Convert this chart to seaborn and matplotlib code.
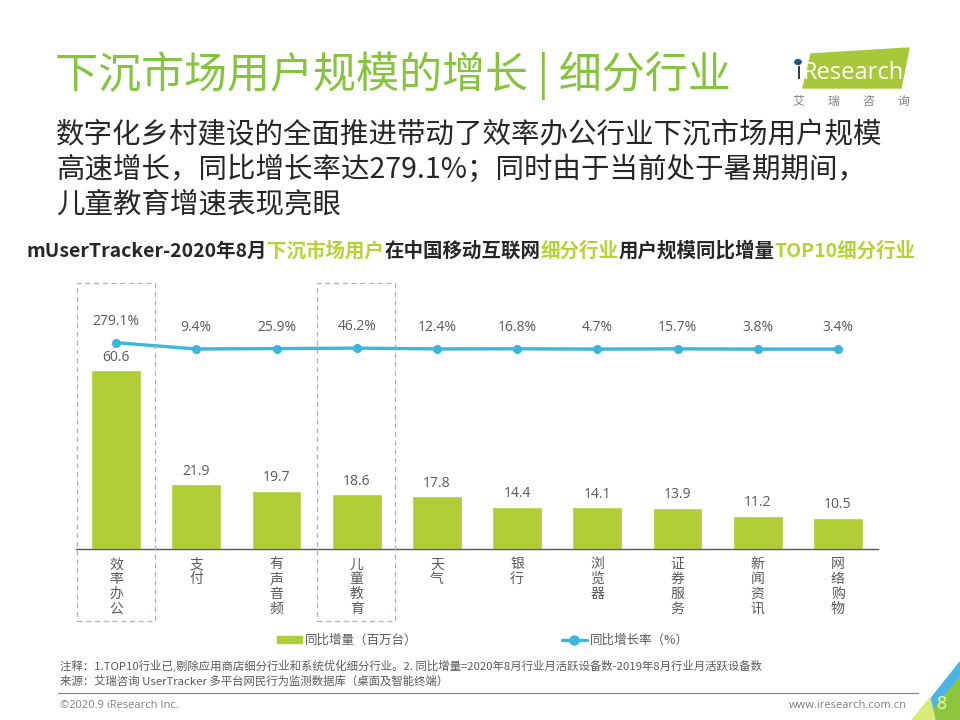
import numpy as np
import pandas as pd
import matplotlib
matplotlib.use("Agg")
import matplotlib.pyplot as plt
import matplotlib.patches as mpatches
import matplotlib.transforms as mtransforms
from matplotlib.lines import Line2D
import seaborn as sns

# ---------------- data ----------------
categories = ["效率办公", "支付", "有声音频", "儿童教育", "天气", "银行", "浏览器", "证券服务", "新闻资讯", "网络购物"]
increase = [60.6, 21.9, 19.7, 18.6, 17.8, 14.4, 14.1, 13.9, 11.2, 10.5]
growth_rate = [279.1, 9.4, 25.9, 46.2, 12.4, 16.8, 4.7, 15.7, 3.8, 3.4]
highlight = ["效率办公", "儿童教育"]

title = "下沉市场用户规模的增长 | 细分行业"
subtitle = ["数字化乡村建设的全面推进带动了效率办公行业下沉市场用户规模",
            "高速增长，同比增长率达279.1%；同时由于当前处于暑期期间，",
            "儿童教育增速表现亮眼"]
chart_title_parts = [("mUserTracker-2020年8月", "dark"), ("下沉市场用户", "hl"),
                     ("在中国移动互联网", "dark"), ("细分行业", "hl"),
                     ("用户规模同比增量", "dark"), ("TOP10细分行业", "hl")]
legend_labels = ["同比增量（百万台）", "同比增长率（%）"]
notes = ["注释：1.TOP10行业已,剔除应用商店细分行业和系统优化细分行业。2. 同比增量=2020年8月行业月活跃设备数-2019年8月行业月活跃设备数",
         "来源：艾瑞咨询 UserTracker 多平台网民行为监测数据库（桌面及智能终端）"]
footer_left = "©2020.9 iResearch Inc."
footer_right = "www.iresearch.com.cn"
page_no = "8"

# ---------------- style ----------------
sns.set_theme(style="white")
plt.rcParams['font.family'] = ['Noto Sans CJK SC', 'DejaVu Sans']
GREEN_BAR = "#afcd35"
GREEN_TITLE = "#86c440"
GREEN_HL = "#b3d336"
BLUE = "#3bb6e0"
GREY = "#595959"
DARK = "#262626"

W, H = 960, 720
fig = plt.figure(figsize=(9.6, 7.2), dpi=100)


def fx(x):
    return x / W


def fy(y):
    return 1 - y / H


# ---------------- chart ----------------
ax_l, ax_r, ax_b, ax_t = 76, 878, 549, 290
ax = fig.add_axes([fx(ax_l), fy(ax_b), (ax_r - ax_l) / W, (ax_b - ax_t) / H])
df = pd.DataFrame({"cat": categories, "inc": increase, "rate": growth_rate})
sns.barplot(data=df, x="cat", y="inc", color=GREEN_BAR, saturation=1, width=0.62, ax=ax)
ax.set_xlim(-0.5, len(categories) - 0.5)
ax.set_ylim(0, (ax_b - ax_t) / 2.95)
ax.set_xlabel("")
ax.set_ylabel("")
ax.set_yticks([])
for s in ["top", "right", "left"]:
    ax.spines[s].set_visible(False)
ax.spines["bottom"].set_color(GREY)
ax.spines["bottom"].set_linewidth(1.0)
ax.set_xticks(range(len(categories)))
ax.set_xticklabels(["\n".join(c) for c in categories], fontsize=10, color=GREY,
                   linespacing=1.08, va="top")
ax.tick_params(axis="x", length=0, pad=6)

for i, v in enumerate(increase):
    ax.annotate(f"{v:.1f}", (i, v), xytext=(0, 4), textcoords="offset points",
                ha="center", va="bottom", fontsize=10, color=GREY,
                family=["Open Sans", "DejaVu Sans"])

ax2 = ax.twinx()
ax2.set_position(ax.get_position())
x_pos = np.arange(len(categories))
sns.lineplot(x=x_pos, y=growth_rate, ax=ax2, color=BLUE, linewidth=2.4,
             marker="o", markersize=6.5, markeredgewidth=0, legend=False)
zero_px = 349.2
per_px = 1 / 0.0234
ax2.set_ylim(-(ax_b - zero_px) * per_px, (zero_px - ax_t) * per_px)
ax2.set_xlim(-0.5, len(categories) - 0.5)
ax2.set_yticks([])
ax2.set_ylabel("")
for s in ["top", "right", "left", "bottom"]:
    ax2.spines[s].set_visible(False)
for i, v in enumerate(growth_rate):
    ax2.annotate(f"{v:.1f}%", (i, v), xytext=(0, 10), textcoords="offset points",
                 ha="center", va="bottom", fontsize=10, color=GREY,
                 family=["Open Sans", "DejaVu Sans"])

# dashed highlight boxes
trans = mtransforms.blended_transform_factory(ax.transData, fig.transFigure)
for name in highlight:
    i = categories.index(name)
    rect = mpatches.Rectangle((i - 0.49, fy(621)), 0.97, (621 - 283) / H,
                              transform=trans, fill=False, edgecolor="#c9a3a6",
                              linestyle=(0, (4, 3)), linewidth=0.9, clip_on=False)
    fig.add_artist(rect)

# legend
handles = [mpatches.Patch(color=GREEN_BAR),
           Line2D([0], [0], color=BLUE, linewidth=2.4, marker="o", markersize=6.5)]
fig.legend(handles, legend_labels, loc="center", bbox_to_anchor=(fx(483), fy(640)),
           ncol=2, frameon=False, fontsize=9, labelcolor=GREY, handlelength=2.0,
           handleheight=0.5, handletextpad=0.3, columnspacing=11.5)

# ---------------- texts ----------------
fig.text(fx(55), fy(76), title, fontsize=31, color=GREEN_TITLE, va="center", ha="left")
for k, line in enumerate(subtitle):
    fig.text(fx(56), fy(135 + 35 * k), line, fontsize=20.5, color=DARK, va="center", ha="left")

# chart title with coloured parts
renderer = fig.canvas.get_renderer()
pieces = []
for txt, kind in chart_title_parts:
    t = fig.text(0, fy(251), txt, fontsize=14, fontweight="bold",
                 color=(DARK if kind == "dark" else GREEN_HL), va="center", ha="left")
    pieces.append(t)
widths = [p.get_window_extent(renderer=renderer).width for p in pieces]
x0 = 471 - sum(widths) / 2
for p, w in zip(pieces, widths):
    p.set_x(fx(x0))
    x0 += w

# notes
for k, n in enumerate(notes):
    fig.text(fx(60), fy(666 + 15 * k), n, fontsize=8.2, color=GREY, va="center", ha="left")
fig.add_artist(Line2D([fx(58), fx(918)], [fy(693), fy(693)], color="#7f7f7f", linewidth=0.8))
fig.text(fx(60), fy(706), footer_left, fontsize=8, color="#7f7f7f", va="center", ha="left",
         family=["Open Sans", "DejaVu Sans"])
fig.text(fx(907), fy(706), footer_right, fontsize=8, color="#7f7f7f", va="center", ha="right",
         family=["Open Sans", "DejaVu Sans"])

# corner decoration
fig.add_artist(mpatches.Polygon([(fx(915), fy(720)), (fx(960), fy(664)), (fx(960), fy(720))],
                                closed=True, color="#8cc63f", transform=fig.transFigure))
fig.add_artist(mpatches.Polygon([(fx(925), fy(706)), (fx(960), fy(662)), (fx(960), fy(675)), (fx(933), fy(708))],
                                closed=True, color="#4bb3e6", transform=fig.transFigure))
fig.add_artist(mpatches.Polygon([(fx(912), fy(720)), (fx(930), fy(698)), (fx(935), fy(720))],
                                closed=True, color="#d9ea7a", transform=fig.transFigure))
fig.text(fx(941), fy(704), page_no, fontsize=13, color="#f4f7a0", va="center", ha="center",
         family=["Open Sans", "DejaVu Sans"])

# logo
fig.add_artist(mpatches.Polygon([(fx(811), fy(54)), (fx(909), fy(48)), (fx(901), fy(88)), (fx(803), fy(88))],
                                closed=True, color="#a7c83a", transform=fig.transFigure))
fig.text(fx(795), fy(73), "i", fontsize=17, color="#3a3a3a", va="center", ha="left",
         family=["Open Sans", "DejaVu Sans"])
fig.text(fx(803), fy(73), "Research", fontsize=17, color="white", va="center", ha="left",
         family=["Open Sans", "DejaVu Sans"])
fig.add_artist(mpatches.Circle((fx(798), fy(62)), 3.2 / W, color="#1d5a9c", transform=fig.transFigure))
for k, ch in enumerate("艾瑞咨询"):
    fig.text(fx(798 + 35 * k), fy(101), ch, fontsize=8.5, color="#7f7f7f", va="center", ha="center")

fig.savefig("out.png", dpi=100)
